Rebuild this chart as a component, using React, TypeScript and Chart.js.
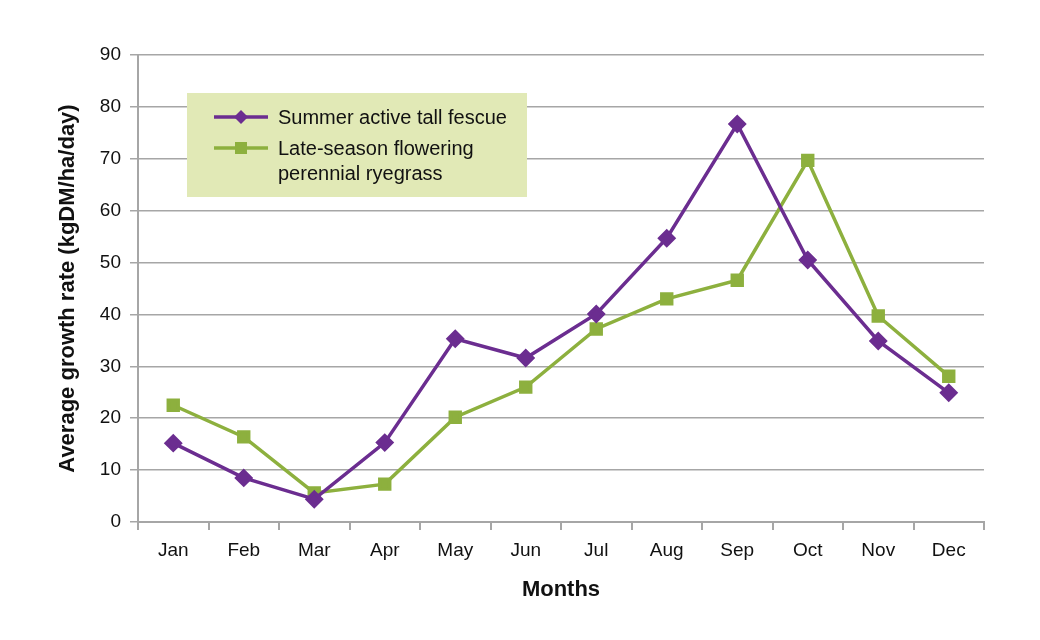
import { Chart, registerables } from "chart.js";
import { useEffect, useRef } from "react";

Chart.register(...registerables);

const months = ["Jan", "Feb", "Mar", "Apr", "May", "Jun", "Jul", "Aug", "Sep", "Oct", "Nov", "Dec"];
const fescueLabel = "Summer active tall fescue";
const ryegrassLabel = ["Late-season flowering", "perennial ryegrass"];
const fescue = [15.2, 8.5, 4.4, 15.3, 35.3, 31.6, 40.1, 54.7, 76.7, 50.5, 34.9, 24.9];
const ryegrass = [22.5, 16.4, 5.6, 7.3, 20.2, 26.0, 37.2, 43.0, 46.6, 69.7, 39.7, 28.1];

const purple = "#6b2d90";
const green = "#8db03e";
const grid = "#a6a6a6";
const font = "'Liberation Sans', Arial, sans-serif";

// legend drawn as a filled box inside the plot
const boxLegend = {
  id: "boxLegend",
  afterDraw(chart: Chart) {
    const ctx = chart.ctx;
    ctx.save();
    ctx.fillStyle = "#e1e9b6";
    ctx.fillRect(187, 93, 340, 104);
    const rows = [
      { color: purple, style: "rectRot", lines: [fescueLabel], y: 117 },
      { color: green, style: "rect", lines: ryegrassLabel, y: 148 },
    ];
    ctx.font = `20px ${font}`;
    ctx.textBaseline = "middle";
    for (const r of rows) {
      ctx.strokeStyle = r.color;
      ctx.lineWidth = 3.5;
      ctx.beginPath();
      ctx.moveTo(214, r.y);
      ctx.lineTo(268, r.y);
      ctx.stroke();
      ctx.fillStyle = r.color;
      if (r.style === "rect") {
        ctx.fillRect(235, r.y - 6, 12, 12);
      } else {
        ctx.beginPath();
        ctx.moveTo(241, r.y - 7);
        ctx.lineTo(248, r.y);
        ctx.lineTo(241, r.y + 7);
        ctx.lineTo(234, r.y);
        ctx.closePath();
        ctx.fill();
      }
      ctx.fillStyle = "#111";
      r.lines.forEach((t, i) => ctx.fillText(t, 278, r.y + 1 + i * 25));
    }
    ctx.restore();
  },
};

export default function App() {
  const canvasRef = useRef<null | HTMLCanvasElement>(null);

  useEffect(() => {
    if (!canvasRef.current) return;
    const c = new Chart(canvasRef.current, {
      type: "line",
      data: {
        labels: months,
        datasets: [
          {
            label: fescueLabel,
            data: fescue,
            borderColor: purple,
            backgroundColor: purple,
            borderWidth: 3.5,
            pointStyle: "rectRot",
            pointRadius: 7,
            pointHoverRadius: 7,
            tension: 0,
          },
          {
            label: ryegrassLabel.join(" "),
            data: ryegrass,
            borderColor: green,
            backgroundColor: green,
            borderWidth: 3.5,
            pointStyle: "rect",
            pointRadius: 7,
            pointHoverRadius: 7,
            tension: 0,
          },
        ],
      },
      options: {
        animation: false,
        responsive: true,
        maintainAspectRatio: false,
        layout: { padding: { top: 55, right: 56, left: 0, bottom: 0 } },
        scales: {
          x: {
            offset: true,
            grid: {
              offset: true,
              drawOnChartArea: false,
              drawTicks: true,
              tickLength: 8,
              color: grid,
              lineWidth: 2,
            },
            border: { color: grid, width: 2 },
            ticks: { color: "#111", font: { family: font, size: 19 }, padding: 9 },
            title: {
              display: true,
              text: "Months",
              color: "#111",
              font: { family: font, size: 22, weight: "bold" },
              padding: { top: 0, bottom: 37 },
            },
            afterFit: (s: any) => {
              s.height = 118;
            },
          },
          y: {
            min: 0,
            max: 90,
            ticks: { stepSize: 10, color: "#111", font: { family: font, size: 19 }, padding: 9 },
            grid: { color: grid, lineWidth: 1.5, tickLength: 8 },
            border: { color: grid, width: 2 },
            title: {
              display: true,
              text: "Average growth rate (kgDM/ha/day)",
              color: "#111",
              font: { family: font, size: 22, weight: "bold" },
              padding: { top: 55, bottom: 0 },
            },
            afterFit: (s: any) => {
              s.width = 138;
            },
          },
        },
        plugins: {
          legend: { display: false },
          tooltip: { enabled: false },
        },
      },
      plugins: [boxLegend],
    });
    return () => c.destroy();
  }, []);

  return (
    <div style={{ position: "fixed", left: 0, top: 0, width: 1040, height: 640, background: "#fff" }}>
      <canvas ref={canvasRef} />
    </div>
  );
}
